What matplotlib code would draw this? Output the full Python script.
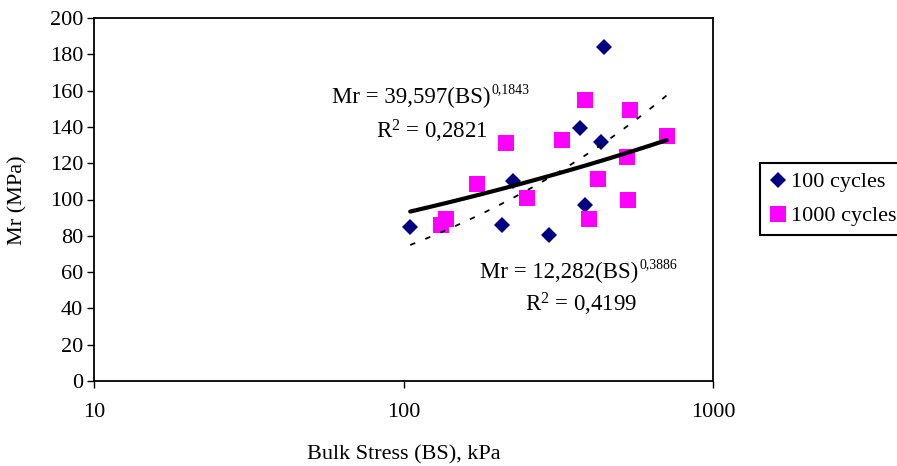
import matplotlib
matplotlib.use('Agg')
import matplotlib.pyplot as plt
import numpy as np

# Mr vs bulk stress
bs_100 = [105, 208, 225, 296, 371, 385, 433, 443]
mr_100 = [84.8, 85.7, 110, 80.2, 139.2, 97.1, 131.5, 184]

bs_1000 = [132, 137, 173, 215, 251, 326, 387, 398, 425, 529, 531, 541, 708]
mr_1000 = [86.1, 89, 108.6, 131, 100.9, 132.7, 154.8, 89, 111.3, 123.3, 99.8, 149.3, 135]

# power trendlines printed on the chart: Mr = a * BS^b
trend_solid = (39.597, 0.1843)
trend_dash = (12.282, 0.3886)

eq_solid = ['Mr = 39,597(BS)', '0,1843', 'R$^{2}$ = 0,2821']
eq_dash = ['Mr = 12,282(BS)', '0,3886', 'R$^{2}$ = 0,4199']

x_ticks = [10, 100, 1000]
y_ticks = list(range(0, 201, 20))

plt.rcParams['font.family'] = 'Liberation Serif'
plt.rcParams['mathtext.fontset'] = 'custom'
plt.rcParams['mathtext.rm'] = 'Liberation Serif'
plt.rcParams['mathtext.default'] = 'regular'

W, H = 897, 466
fs = 16
fs_eq = 16.5

fig = plt.figure(figsize=(W / 100, H / 100), dpi=100)
ax = fig.add_axes([94.3 / W, 1 - 381 / H, (713 - 94.3) / W, (381 - 18) / H])

ax.plot(bs_100, mr_100, 'D', color='#000080', ms=8, mew=0, label='100 cycles', zorder=3)
ax.plot(bs_1000, mr_1000, 's', color='#FF00FF', ms=11.5, mew=0, label='1000 cycles', zorder=3)

x_all = bs_100 + bs_1000
xs = np.geomspace(min(x_all), max(x_all), 100)
ax.plot(xs, trend_solid[0] * xs ** trend_solid[1], color='black', lw=3,
        solid_capstyle='round', zorder=4)
ax.plot(xs, trend_dash[0] * xs ** trend_dash[1], color='black', lw=1.3,
        dashes=(3, 6), zorder=4)

ax.set_xscale('log')
ax.set_xlim(10, 1000)
ax.set_ylim(0, 200)
ax.set_xticks(x_ticks, [str(t) for t in x_ticks])
ax.xaxis.set_minor_locator(matplotlib.ticker.NullLocator())
ax.set_yticks(y_ticks)
ax.tick_params(direction='out', length=5, width=1, labelsize=fs, pad=3)
ax.tick_params(axis='x', pad=11)
for s in ax.spines.values():
    s.set_linewidth(1.3)


def equation(eq, x_main, y_main, x_r2, y_r2):
    t = fig.text(x_main / W, 1 - y_main / H, eq[0], fontsize=fs_eq, va='baseline')
    # small raised exponent right after the closing bracket
    fig.canvas.draw()
    bb = t.get_window_extent()
    fig.text(bb.x1 / W + 1 / W, 1 - (y_main - 10) / H, eq[1], fontsize=10, va='baseline')
    fig.text(x_r2 / W, 1 - y_r2 / H, eq[2], fontsize=fs_eq, va='baseline')


equation(eq_solid, 332, 103, 376, 139)
equation(eq_dash, 480, 278, 525, 312)

fig.text(18 / W, 1 - 200 / H, 'Mr (MPa)', rotation=90, ha='center', va='center', fontsize=fs)
fig.text(404 / W, 1 - 459 / H, 'Bulk Stress (BS), kPa', ha='center', va='baseline', fontsize=fs)

leg = fig.legend(loc='upper left', bbox_to_anchor=(760 / W, 1 - 163 / H), fontsize=fs,
                 frameon=True, fancybox=False, framealpha=1, edgecolor='black',
                 handlelength=0.8, handletextpad=0.2, borderpad=0.4, labelspacing=0.6,
                 borderaxespad=0)
leg.get_frame().set_linewidth(1.5)

fig.savefig('out.png', dpi=100)
